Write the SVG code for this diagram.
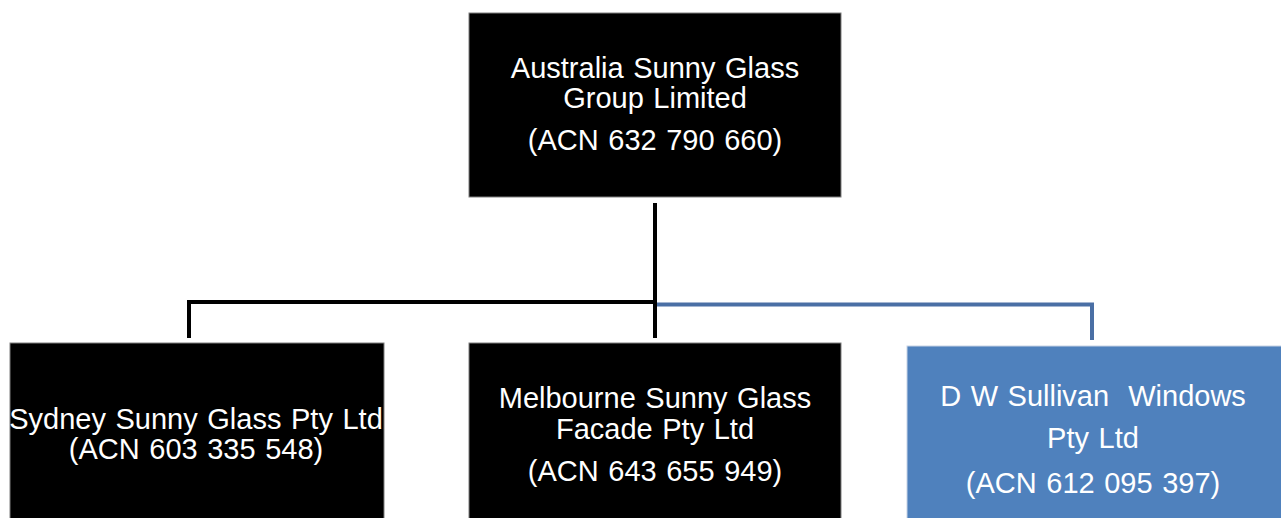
<svg xmlns="http://www.w3.org/2000/svg" width="1281" height="518" viewBox="0 0 1281 518">
<style>
.box{fill:#000;stroke:#7f7f7f;stroke-width:1}
.blue{fill:#4f81bd;stroke:#c8d4e6;stroke-width:1}
.t{font-family:"Liberation Sans",Arial,sans-serif;font-size:29px;fill:#fff;text-anchor:middle;word-spacing:1.5px}
.k{fill:none;stroke:#000;stroke-width:4}
.b{fill:none;stroke:#4a6fa5;stroke-width:4}
</style>
<rect width="1281" height="518" fill="#fff"/>
<g id="connectors">
<path class="b" d="M655 304.5 H1092 V340"/>
<path class="k" d="M189 338 V302 H655"/>
<path class="k" d="M655 203 V338"/>
</g>
<g id="top">
<rect class="box" x="469" y="13" width="372" height="184"/>
<text class="t" x="655" y="78">Australia Sunny Glass</text>
<text class="t" x="655" y="108">Group Limited</text>
<text class="t" x="655" y="150">(ACN 632 790 660)</text>
</g>
<g id="sydney">
<rect class="box" x="10" y="343" width="374" height="180"/>
<text class="t" x="196" y="429">Sydney Sunny Glass Pty Ltd</text>
<text class="t" x="196" y="459">(ACN 603 335 548)</text>
</g>
<g id="melbourne">
<rect class="box" x="469" y="343" width="372" height="180"/>
<text class="t" x="655" y="408">Melbourne Sunny Glass</text>
<text class="t" x="655" y="439">Facade Pty Ltd</text>
<text class="t" x="655" y="481">(ACN 643 655 949)</text>
</g>
<g id="dwsullivan">
<rect class="blue" x="907" y="346" width="380" height="180"/>
<text class="t" x="1093" y="406" xml:space="preserve">D W Sullivan  Windows</text>
<text class="t" x="1093" y="448">Pty Ltd</text>
<text class="t" x="1093" y="493">(ACN 612 095 397)</text>
</g>
</svg>
